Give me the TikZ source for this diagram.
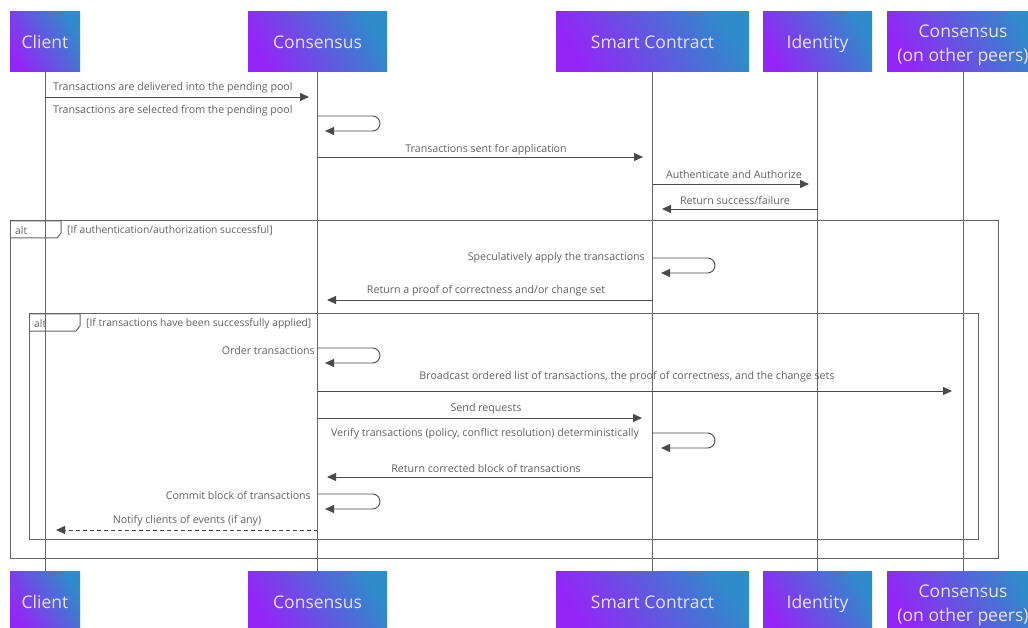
\documentclass[tikz,border=0pt]{standalone}
\usepackage{fontspec}
\setmainfont{Open Sans}
\usetikzlibrary{arrows.meta,calc}
\definecolor{gPurple}{HTML}{9326F6}
\definecolor{gBlue}{HTML}{2F8BCB}
\definecolor{hdrText}{HTML}{E6E2FA}
\definecolor{ink}{HTML}{4A4A4A}
\definecolor{lifeGray}{HTML}{656565}
\definecolor{labelGray}{HTML}{616161}
\begin{document}
\begin{tikzpicture}[x=1pt,y=-1pt,
  hdrbox/.style={rectangle, inner sep=0pt, minimum height=60pt,
    top color=gBlue, bottom color=gPurple, shading angle=-60,
    text=hdrText, align=center},
  hdr/.style={hdrbox, font=\fontsize{17.5}{19}\selectfont,
    text height=14pt, text depth=0pt},
  hdrtxt/.style={inner sep=0pt, text=hdrText, align=center,
    font=\fontsize{17.5}{23.5}\selectfont},
  lifeline/.style={draw=lifeGray, line width=0.9pt},
  msg/.style={draw=ink, line width=0.9pt, -{Triangle[length=9pt,width=8pt]}},
  reply/.style={msg, dash pattern=on 4pt off 3pt},
  selfmsg/.style={msg, rounded corners=7.5pt},
  lbl/.style={inner sep=0pt, yshift=-1.5pt, text=labelGray, font=\fontsize{10.65}{12}\selectfont},
  frame/.style={draw=lifeGray, line width=1pt},
  tab/.style={draw=lifeGray, line width=1pt},
  tablbl/.style={inner sep=0pt, yshift=-1pt, text=labelGray, font=\fontsize{10.3}{12}\selectfont, anchor=west}]
\useasboundingbox (0,0) rectangle (1028,628);
\clip (0,0) rectangle (1028,628);

% combined fragments (drawn first, lifelines cross them)
\draw[frame] (10,221) rectangle (998,558);
\draw[tab] (10,221) -- (61,221) -- (61,233) -- (57,238) -- (10,238);
\node[tablbl] (alt1) at (15,229.5) {alt};
\node[tablbl] (guard1) at (67,229.5) {[If authentication/authorization successful]};

\draw[frame] (29,314) rectangle (978,539);
\draw[tab] (29,314) -- (80,314) -- (80,326) -- (76,331) -- (29,331);
\node[tablbl] (alt2) at (34,322.5) {alt};
\node[tablbl] (guard2) at (86,322.5) {[If transactions have been successfully applied]};

% participants, top
\node[hdr, minimum width=70pt]  (clientT)  at (45,42)    {Client};
\node[hdr, minimum width=139pt] (consT)    at (317.5,42) {Consensus};
\node[hdr, minimum width=193pt] (scT)      at (652.5,42) {Smart Contract};
\node[hdr, minimum width=109pt] (idT)      at (817.5,42) {Identity};
\node[hdrbox, minimum width=152pt] (peersT) at (963,42)  {};
\node[hdrtxt] (peersTlbl) at (963,45.5) {Consensus\\(on other peers)};

% participants, bottom
\node[hdr, minimum width=70pt]  (clientB)  at (45,601)    {Client};
\node[hdr, minimum width=139pt] (consB)    at (317.5,601) {Consensus};
\node[hdr, minimum width=193pt] (scB)      at (652.5,601) {Smart Contract};
\node[hdr, minimum width=109pt] (idB)      at (817.5,601) {Identity};
\node[hdrbox, minimum width=152pt] (peersB) at (963,601)  {};
\node[hdrtxt] (peersBlbl) at (963,605.5) {Consensus\\(on other peers)};

% lifelines
\draw[lifeline] (clientT.south) -- (clientB.north);
\draw[lifeline] (consT.south) -- (consB.north);
\draw[lifeline] (scT.south) -- (scB.north);
\draw[lifeline] (idT.south) -- (idB.north);
\draw[lifeline] (peersT.south) -- (peersB.north);

% message end points
\coordinate (m1a) at (45,97);    \coordinate (m1b) at (309,97);
\coordinate (m2a) at (317.5,116); \coordinate (m2b) at (380,116);
\coordinate (m2c) at (380,131);   \coordinate (m2d) at (325,131);
\coordinate (m3a) at (317.5,157); \coordinate (m3b) at (643,157);
\coordinate (m4a) at (652.5,184); \coordinate (m4b) at (809,184);
\coordinate (m5a) at (817.5,209); \coordinate (m5b) at (662,209);
\coordinate (m6a) at (652.5,258); \coordinate (m6b) at (715,258);
\coordinate (m6c) at (715,273);   \coordinate (m6d) at (661,273);
\coordinate (m7a) at (652.5,300); \coordinate (m7b) at (327,300);
\coordinate (m8a) at (317.5,348); \coordinate (m8b) at (380,348);
\coordinate (m8c) at (380,363);   \coordinate (m8d) at (325,363);
\coordinate (m9a) at (317.5,391); \coordinate (m9b) at (952,391);
\coordinate (m10a) at (317.5,418); \coordinate (m10b) at (642,418);
\coordinate (m11a) at (652.5,433); \coordinate (m11b) at (715,433);
\coordinate (m11c) at (715,448);   \coordinate (m11d) at (661,448);
\coordinate (m12a) at (652.5,477); \coordinate (m12b) at (327,477);
\coordinate (m13a) at (317.5,494); \coordinate (m13b) at (380,494);
\coordinate (m13c) at (380,509);   \coordinate (m13d) at (325,509);
\coordinate (m14a) at (317.5,530); \coordinate (m14b) at (56,530);

% messages
\draw[msg] (m1a) -- (m1b);
\node[lbl, anchor=west] (l1) at (53,86) {Transactions are delivered into the pending pool};
\draw[selfmsg] (m2a) -- (m2b) -- (m2c) -- (m2d);
\node[lbl, anchor=west] (l2) at (53,109) {Transactions are selected from the pending pool};
\draw[msg] (m3a) -- (m3b);
\node[lbl] (l3) at (486,148) {Transactions sent for application};
\draw[msg] (m4a) -- (m4b);
\node[lbl] (l4) at (734,173) {Authenticate and Authorize};
\draw[msg] (m5a) -- (m5b);
\node[lbl] (l5) at (735,199) {Return success/failure};
\draw[selfmsg] (m6a) -- (m6b) -- (m6c) -- (m6d);
\node[lbl, anchor=east] (l6) at (645,256) {Speculatively apply the transactions};
\draw[msg] (m7a) -- (m7b);
\node[lbl] (l7) at (486,289) {Return a proof of correctness and/or change set};
\draw[selfmsg] (m8a) -- (m8b) -- (m8c) -- (m8d);
\node[lbl, anchor=east] (l8) at (315,349) {Order transactions};
\draw[msg] (m9a) -- (m9b);
\node[lbl] (l9) at (627,375) {Broadcast ordered list of transactions, the proof of correctness, and the change sets};
\draw[msg] (m10a) -- (m10b);
\node[lbl] (l10) at (486,407) {Send requests};
\draw[selfmsg] (m11a) -- (m11b) -- (m11c) -- (m11d);
\node[lbl] (l11) at (485,432) {Verify transactions (policy, conflict resolution) deterministically};
\draw[msg] (m12a) -- (m12b);
\node[lbl] (l12) at (486,467) {Return corrected block of transactions};
\draw[selfmsg] (m13a) -- (m13b) -- (m13c) -- (m13d);
\node[lbl, anchor=east] (l13) at (311,494) {Commit block of transactions};
\draw[reply] (m14a) -- (m14b);
\node[lbl] (l14) at (187,519) {Notify clients of events (if any)};
\end{tikzpicture}
\end{document}
